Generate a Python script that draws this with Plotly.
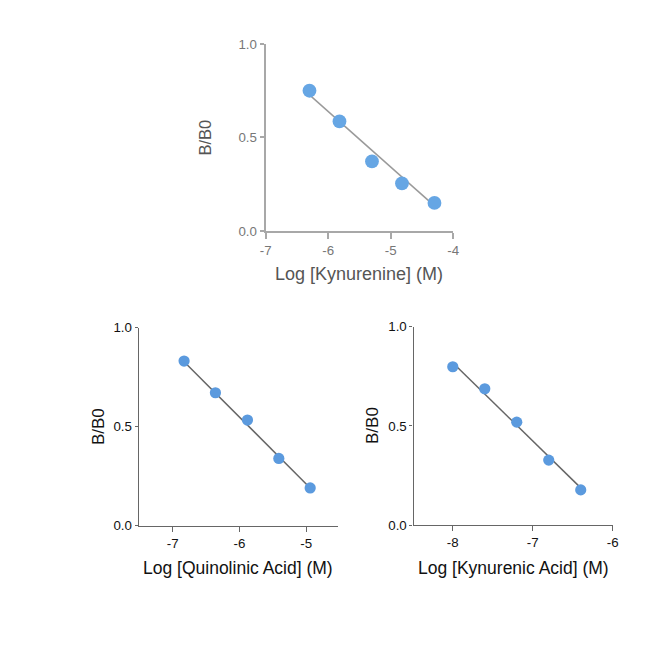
import plotly.graph_objects as go

# ---- data ----
kyn_x = [-6.3, -5.82, -5.3, -4.82, -4.3]
kyn_y = [0.75, 0.586, 0.372, 0.254, 0.15]
kyn_fit_x = [-6.3, -4.3]
kyn_fit_y = [0.728, 0.134]

quin_x = [-6.83, -6.36, -5.88, -5.41, -4.94]
quin_y = [0.831, 0.671, 0.533, 0.339, 0.19]
quin_fit_x = [-6.83, -4.94]
quin_fit_y = [0.828, 0.19]

kyna_x = [-8.0, -7.6, -7.2, -6.8, -6.4]
kyna_y = [0.798, 0.687, 0.519, 0.328, 0.178]
kyna_fit_x = [-8.0, -6.4]
kyna_fit_y = [0.818, 0.188]

y_ticks = [0.0, 0.5, 1.0]
y_ticklabels = ["0.0", "0.5", "1.0"]

# page body has an 8px default margin; size the figure to fit inside the window
OFF = 8
W = H = 669 - 2 * OFF
FONT = "Liberation Sans, Arial, Helvetica, sans-serif"
# empirical correction between requested page position and photographed position
SHIFT, SCALE = 8.2, 0.976


def t(p):
    return (p - SHIFT) / SCALE


def fx(px):
    return (t(px) - OFF) / W


def fy(py):
    return 1 - (t(py) - OFF) / H


fig = go.Figure()

panels = [
    dict(x=kyn_x, y=kyn_y, fx=kyn_fit_x, fy=kyn_fit_y, xr=[-7, -4], xt=[-7, -6, -5, -4],
         px=(266.3, 452.7), py=(45, 231.7), title="Log [Kynurenine] (M)",
         mcol="#66a6e4", msize=13.8, lcol="#9a9a9a", acol="#a8a8a8", aw=2.2,
         tcol="#777777", ttcol="#555555", xtitle_y=275, ytitle_x=206, xtl=6, ytl=4,
         tfs=13.3, afs=18, yfs=16.5),
    dict(x=quin_x, y=quin_y, fx=quin_fit_x, fy=quin_fit_y, xr=[-7.51, -4.53], xt=[-7, -6, -5],
         px=(140, 337.7), py=(328.3, 526), title="Log [Quinolinic Acid] (M)",
         mcol="#5b9ade", msize=11.2, lcol="#666666", acol="#666666", aw=1.3,
         tcol="#111111", ttcol="#111111", xtitle_y=568, ytitle_x=100, xtl=5, ytl=3,
         tfs=13.3, afs=17.5, yfs=17),
    dict(x=kyna_x, y=kyna_y, fx=kyna_fit_x, fy=kyna_fit_y, xr=[-8.49, -6.0], xt=[-8, -7, -6],
         px=(413.3, 611.3), py=(327.3, 525.7), title="Log [Kynurenic Acid] (M)",
         mcol="#5b9ade", msize=11.2, lcol="#666666", acol="#666666", aw=1.3,
         tcol="#111111", ttcol="#111111", xtitle_y=568, ytitle_x=373, xtl=5, ytl=3,
         tfs=13.3, afs=17.5, yfs=17),
]

layout = dict(
    width=W, height=H, margin=dict(l=0, r=0, t=0, b=0),
    paper_bgcolor="white", plot_bgcolor="rgba(0,0,0,0)",
    showlegend=False, font=dict(family=FONT), annotations=[],
)

for i, p in enumerate(panels, start=1):
    xa = "x" if i == 1 else f"x{i}"
    ya = "y" if i == 1 else f"y{i}"
    fig.add_trace(go.Scatter(x=p["fx"], y=p["fy"], mode="lines",
                             line=dict(color=p["lcol"], width=1.5),
                             xaxis=xa, yaxis=ya, hoverinfo="skip", cliponaxis=False))
    fig.add_trace(go.Scatter(x=p["x"], y=p["y"], mode="markers",
                             marker=dict(color=p["mcol"], size=p["msize"], line=dict(width=0)),
                             xaxis=xa, yaxis=ya, cliponaxis=False))
    xdom = [fx(p["px"][0]), fx(p["px"][1])]
    ydom = [fy(p["py"][1]), fy(p["py"][0])]
    key_x = "xaxis" if i == 1 else f"xaxis{i}"
    key_y = "yaxis" if i == 1 else f"yaxis{i}"
    layout[key_x] = dict(domain=xdom, range=p["xr"], anchor=ya, tickmode="array",
                         tickvals=p["xt"], ticktext=[str(v) for v in p["xt"]],
                         showgrid=False, zeroline=False, showline=True,
                         linecolor=p["acol"], linewidth=p["aw"], ticks="outside",
                         ticklen=p["xtl"], tickwidth=p["aw"], tickcolor=p["acol"],
                         tickfont=dict(size=p["tfs"], color=p["tcol"], family=FONT))
    layout[key_y] = dict(domain=ydom, range=[0, 1], anchor=xa, tickmode="array",
                         tickvals=y_ticks, ticktext=y_ticklabels,
                         showgrid=False, zeroline=False, showline=True,
                         linecolor=p["acol"], linewidth=p["aw"], ticks="outside",
                         ticklen=p["ytl"], tickwidth=p["aw"], tickcolor=p["acol"],
                         tickfont=dict(size=p["tfs"], color=p["tcol"], family=FONT))
    layout["annotations"].append(dict(
        text=p["title"], xref="paper", yref="paper",
        x=fx((p["px"][0] + p["px"][1]) / 2), y=fy(p["xtitle_y"]),
        xanchor="center", yanchor="middle", showarrow=False,
        font=dict(size=p["afs"], color=p["ttcol"], family=FONT)))
    layout["annotations"].append(dict(
        text="B/B0", xref="paper", yref="paper",
        x=fx(p["ytitle_x"]), y=fy((p["py"][0] + p["py"][1]) / 2),
        xanchor="center", yanchor="middle", showarrow=False, textangle=-90,
        font=dict(size=p["yfs"], color=p["ttcol"], family=FONT)))

fig.update_layout(**layout)
fig.write_html("out.html")
